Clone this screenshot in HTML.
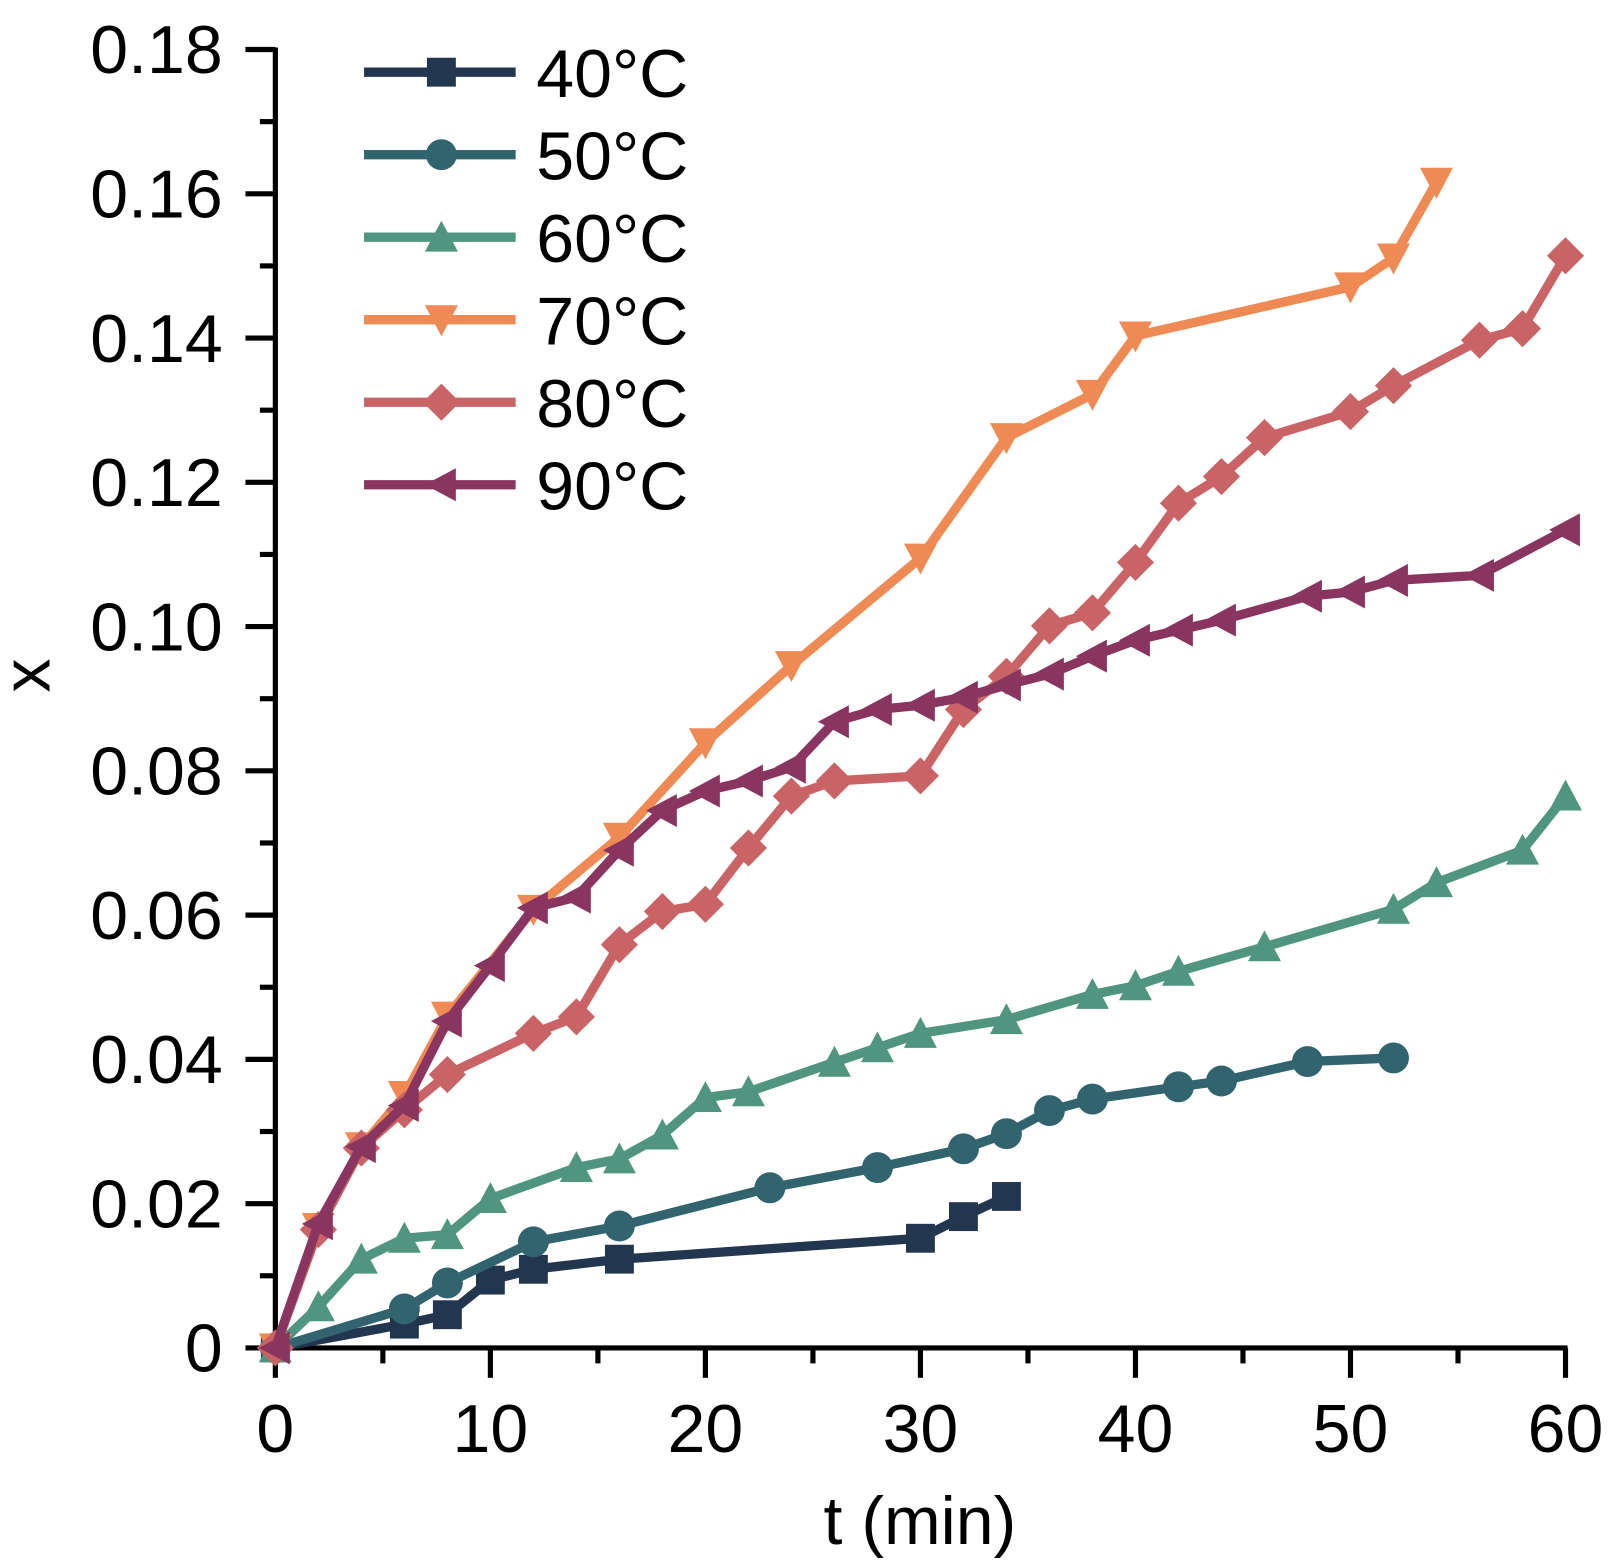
<!DOCTYPE html>
<html><head><meta charset="utf-8"><style>html,body{margin:0;padding:0;background:#fff;}svg{display:block}</style></head>
<body>
<svg id="s" width="1618" height="1568" viewBox="0 0 1618 1568" xmlns="http://www.w3.org/2000/svg">
<g id="g" transform="scale(1.0313)" font-family="Liberation Sans, Arial, sans-serif"></g>
</svg>
<script>
const g=document.getElementById('g');
let out='';
const X=t=>267+t*20.85, Y=v=>1307-v*6994.4;
out+=`<line x1="267" y1="46" x2="267" y2="1310" stroke="#000" stroke-width="5"/>`;
out+=`<line x1="264" y1="1307" x2="1520" y2="1307" stroke="#000" stroke-width="5"/>`;
for(let i=0;i<=18;i++){const y=Y(i*0.01);const L=i%2?15:29;out+=`<line x1="${267-L}" y1="${y}" x2="267" y2="${y}" stroke="#000" stroke-width="5"/>`;
 if(i%2==0){out+=`<text x="216" y="${y+23}" font-size="66" text-anchor="end">${i==0?'0':(i*0.01).toFixed(2)}</text>`;}}
for(let i=0;i<=12;i++){const x=X(i*5);const L=i%2?15:29;out+=`<line x1="${x}" y1="1307" x2="${x}" y2="${1307+L}" stroke="#000" stroke-width="5"/>`;
 if(i%2==0)out+=`<text x="${x}" y="1408" font-size="66" text-anchor="middle">${i*5}</text>`;}
out+=`<text x="892" y="1497" font-size="66" text-anchor="middle">t (min)</text>`;
out+=`<text transform="translate(48,655) rotate(-90)" font-size="66" text-anchor="middle">x</text>`;
function mk(type,x,y,c){const s=14;
 if(type=='sq')return `<rect x="${x-s}" y="${y-s}" width="${2*s}" height="${2*s}" fill="${c}"/>`;
 if(type=='ci')return `<circle cx="${x}" cy="${y}" r="${s+1}" fill="${c}"/>`;
 if(type=='up')return `<polygon points="${x},${y-s-2} ${x+s+2},${y+s} ${x-s-2},${y+s}" fill="${c}"/>`;
 if(type=='dn')return `<polygon points="${x},${y+s+2} ${x+s+2},${y-s} ${x-s-2},${y-s}" fill="${c}"/>`;
 if(type=='di')return `<polygon points="${x},${y-s-4} ${x+s+4},${y} ${x},${y+s+4} ${x-s-4},${y}" fill="${c}"/>`;
 if(type=='lt')return `<polygon points="${x-s-2},${y} ${x+s},${y-s-2} ${x+s},${y+s+2}" fill="${c}"/>`;}
const S=[
['40°C','#22364f','sq',[[0,0],[6,.0033],[8,.0046],[10,.0094],[12,.0109],[16,.0123],[30,.0152],[32,.0182],[34,.021]]],
['50°C','#31646e','ci',[[0,0],[6,.0054],[8,.009],[12,.0147],[16,.0169],[23,.0222],[28,.025],[32,.0276],[34,.0297],[36,.0329],[38,.0345],[42,.0362],[44,.037],[48,.0397],[52,.0402]]],
['60°C','#4f9580','up',[[0,0],[2,.0057],[4,.0123],[6,.0152],[8,.0157],[10,.0207],[14,.025],[16,.0262],[18,.0295],[20,.0347],[22,.0355],[26,.0396],[28,.0416],[30,.0436],[34,.0455],[38,.049],[40,.0502],[42,.0522],[46,.0556],[52,.0608],[54,.0645],[58,.069],[60,.0765]]],
['70°C','#ef8a54','dn',[[0,0],[2,.0167],[4,.0279],[6,.035],[8,.046],[12,.0608],[16,.0708],[20,.0839],[24,.0946],[30,.1095],[34,.1262],[38,.1322],[40,.1403],[50,.1471],[52,.1511],[54,.1616]]],
['80°C','#c96365','di',[[0,0],[2,.0164],[4,.0277],[6,.033],[8,.0379],[12,.0436],[14,.0459],[16,.0559],[18,.0605],[20,.0615],[22,.0693],[24,.0765],[26,.0786],[30,.0793],[32,.0885],[34,.0931],[36,.1001],[38,.1019],[40,.1089],[42,.1171],[44,.1208],[46,.1262],[50,.1298],[52,.1334],[56,.1397],[58,.1413],[60,.1514]]],
['90°C','#8a3560','lt',[[0,0],[2,.0172],[4,.0279],[6,.0336],[8,.0453],[10,.053],[12,.061],[14,.0625],[16,.069],[18,.0745],[20,.0772],[22,.0786],[24,.0805],[26,.0868],[28,.0885],[30,.0891],[32,.0902],[34,.0919],[36,.0934],[38,.0959],[40,.0981],[42,.0995],[44,.1009],[48,.1042],[50,.1048],[52,.1064],[56,.1071],[60,.1134]]]];
S.forEach((s,i)=>{const [n,c,t,d]=s;
 out+=`<polyline points="${d.map(p=>X(p[0])+','+Y(p[1])).join(' ')}" fill="none" stroke="${c}" stroke-width="9" stroke-linejoin="round"/>`;
 d.forEach(p=>out+=mk(t,X(p[0]),Y(p[1]),c));
 const ly=70+i*80;
 out+=`<line x1="353" y1="${ly}" x2="500" y2="${ly}" stroke="${c}" stroke-width="9"/>`+mk(t,428,ly,c);
 out+=`<text x="520" y="${ly+24}" font-size="66">${n}</text>`;
});
g.innerHTML=out;
</script>
</body></html>
